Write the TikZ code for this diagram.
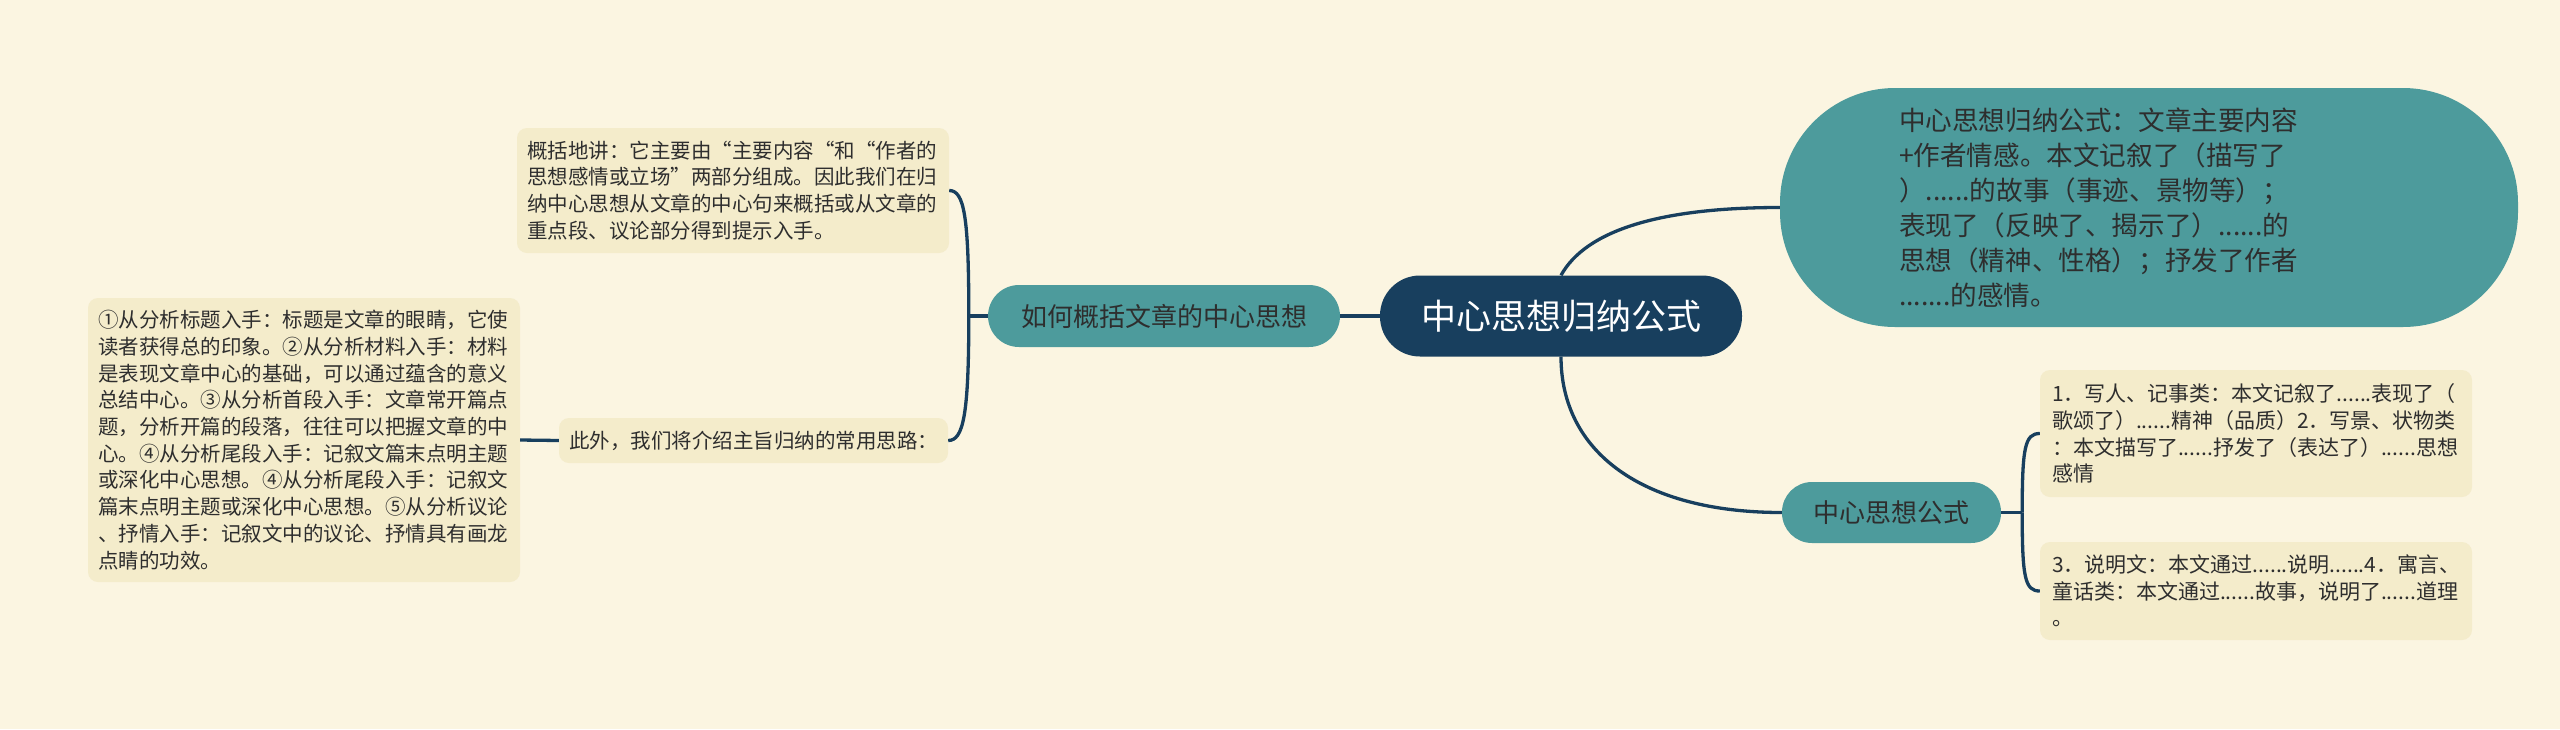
\documentclass[tikz,border=0pt]{standalone}
\usepackage{fontspec}
\newfontfamily\cjkfont{Noto Sans CJK SC}
\definecolor{paper}{HTML}{FBF5E1}
\definecolor{noteyellow}{HTML}{F4ECCB}
\definecolor{topicteal}{HTML}{4D9B9C}
\definecolor{navyblue}{HTML}{183F5E}
\definecolor{ink}{HTML}{2E2E2E}
\begin{document}
\begin{tikzpicture}[
    x=1pt, y=-1pt,
    every node/.style={inner sep=0, font=\cjkfont},
    link/.style={draw=navyblue, line width=3.3pt},
    rootbox/.style={fill=navyblue, text=white, rounded corners=40pt, minimum width=362pt, minimum height=81pt, font=\cjkfont\fontsize{35}{42}\selectfont},
    topicbox/.style={fill=topicteal, text=ink, font=\cjkfont\fontsize{26}{32}\selectfont},
    notebox/.style={fill=noteyellow, text=ink, rounded corners=10pt, align=left, inner xsep=10pt, font=\cjkfont\fontsize{20.5}{26.7}\selectfont}
  ]
  \fill[paper] (0,0) rectangle (2560,729);
  \useasboundingbox (0,0) rectangle (2560,729);

  \node[rootbox] (root) at (1561,316) {中心思想归纳公式};
  \node[topicbox, minimum width=352pt, minimum height=62pt, rounded corners=31pt] (howto) at (1164,316) {如何概括文章的中心思想};
  \node[topicbox, minimum width=219pt, minimum height=61pt, rounded corners=30pt] (formula) at (1891.5,512.5) {中心思想公式};
  \node[topicbox, minimum width=738pt, minimum height=239pt, rounded corners=115pt, text width=500pt, align=left, font=\cjkfont\fontsize{26.6}{35}\selectfont] (summary) at (2149,207.5)
    {中心思想归纳公式：文章主要内容\\+作者情感。本文记叙了（描写了\\）......的故事（事迹、景物等）；\\表现了（反映了、揭示了）......的\\思想（精神、性格）；抒发了作者\\.......的感情。};

  \node[notebox, text width=412pt, minimum height=125pt] (general) at (733,190.5)
    {概括地讲：它主要由“主要内容“和“作者的\\思想感情或立场”两部分组成。因此我们在归\\纳中心思想从文章的中心句来概括或从文章的\\重点段、议论部分得到提示入手。};
  \node[notebox, text width=369pt, minimum height=45pt] (besides) at (753.5,440.5) {此外，我们将介绍主旨归纳的常用思路：};
  \node[notebox, text width=412pt, minimum height=284pt] (methods) at (304,440)
    {①从分析标题入手：标题是文章的眼睛，它使\\读者获得总的印象。②从分析材料入手：材料\\是表现文章中心的基础，可以通过蕴含的意义\\总结中心。③从分析首段入手：文章常开篇点\\题，分析开篇的段落，往往可以把握文章的中\\心。④从分析尾段入手：记叙文篇末点明主题\\或深化中心思想。④从分析尾段入手：记叙文\\篇末点明主题或深化中心思想。⑤从分析议论\\、抒情入手：记叙文中的议论、抒情具有画龙\\点睛的功效。};
  \node[notebox, inner xsep=12pt, text width=408pt, minimum height=127pt, font=\cjkfont\fontsize{21}{26.7}\selectfont] (writing) at (2256,433.5)
    {1．写人、记事类：本文记叙了......表现了（\\歌颂了）......精神（品质）2．写景、状物类\\：本文描写了......抒发了（表达了）......思想\\感情};
  \node[notebox, inner xsep=12pt, text width=408pt, minimum height=98pt, font=\cjkfont\fontsize{21}{26.7}\selectfont] (expository) at (2256,591)
    {3．说明文：本文通过......说明......4．寓言、\\童话类：本文通过......故事，说明了......道理\\。};

  \coordinate (lfork) at ([xshift=-19pt]howto.west);
  \coordinate (rfork) at ([xshift=21pt]formula.east);

  \draw[link] (root.west) -- (howto.east);
  \draw[link] (root.north) .. controls +(25,-45) and +(-120,0) .. (summary.west);
  \draw[link] (root.south) .. controls +(0,95) and +(-140,0) .. (formula.west);
  \draw[link] (howto.west) -- (lfork);
  \draw[link] (lfork) .. controls +(0,-100) and +(15,0) .. (general.east);
  \draw[link] (lfork) .. controls +(0,100) and +(15,0) .. (besides.east);
  \draw[link] (besides.west) -- (methods.east);
  \draw[link] (formula.east) -- (rfork);
  \draw[link] (rfork) .. controls +(0,-65) and +(-15,0) .. (writing.west);
  \draw[link] (rfork) .. controls +(0,65) and +(-15,0) .. (expository.west);
\end{tikzpicture}
\end{document}
